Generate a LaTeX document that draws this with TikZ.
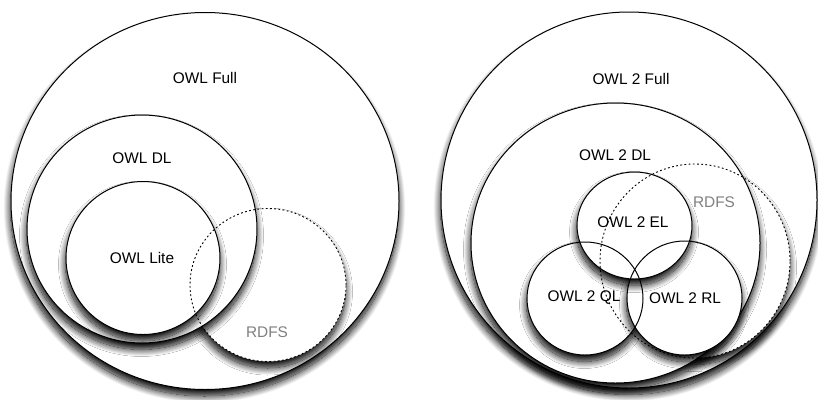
\documentclass[tikz,border=0pt]{standalone}
\usepackage{fontspec}
\setmainfont{Liberation Sans}
\usetikzlibrary{shapes.geometric,shadows.blur}

\begin{document}
\begin{tikzpicture}[x=1pt,y=-1pt,
  setshadow/.style={blur shadow={shadow xshift=-0.5pt, shadow yshift=-6.5pt,
      shadow blur radius=7pt, shadow opacity=100, shadow blur steps=20}},
  region/.style={ellipse, inner sep=0pt, draw=black, line width=1pt,
      fill=white, setshadow},
  regionfill/.style={ellipse, inner sep=0pt, fill=white, setshadow},
  regionline/.style={ellipse, inner sep=0pt, draw=black, line width=1pt},
  rdfsline/.style={ellipse, inner sep=0pt, draw=black, line width=0.9pt,
      dash pattern=on 1.8pt off 2.4pt},
  lbl/.style={font=\fontsize{15.4}{18}\selectfont, text=black},
  rdfslbl/.style={lbl, text=black!50}
]
\useasboundingbox (0,0) rectangle (818,399);

% ---------- OWL 1 ----------
\node[region, minimum width=388pt, minimum height=377pt] (full) at (205,201) {};
\node[regionfill, minimum width=156pt, minimum height=153pt] (rdfsfill) at (268,285) {};
\node[region, minimum width=230pt, minimum height=228pt] (dl) at (142,229) {};
\node[region, minimum width=154pt, minimum height=153pt] (lite) at (143,258) {};
\node[rdfsline, minimum width=156pt, minimum height=153pt] (rdfs) at (rdfsfill) {};

\node[lbl] (fulllbl) at (205,78) {OWL Full};
\node[lbl] (dllbl) at (142,158) {OWL DL};
\node[lbl] (litelbl) at (142,258) {OWL Lite};
\node[rdfslbl] (rdfslbl) at (267,332) {RDFS};

% ---------- OWL 2 ----------
\node[region, minimum width=376pt, minimum height=376pt] (full2) at (629,200) {};
\node[regionfill, minimum width=190pt, minimum height=194pt] (rdfs2fill) at (695,261) {};
\node[region, minimum width=289pt, minimum height=280pt] (dl2) at (615.5,243) {};

% profiles: fills with shadows first, outlines afterwards
\node[regionfill, minimum width=116pt, minimum height=113pt] (qlfill) at (585,298.5) {};
\node[regionfill, minimum width=115pt, minimum height=114pt] (rlfill) at (684.5,298) {};
\node[regionfill, minimum width=115pt, minimum height=107pt] (elfill) at (634.5,225.5) {};
\node[regionline, minimum width=116pt, minimum height=113pt] (ql) at (qlfill) {};
\node[regionline, minimum width=115pt, minimum height=114pt] (rl) at (rlfill) {};
\node[regionline, minimum width=115pt, minimum height=107pt] (el) at (elfill) {};

\node[rdfsline, minimum width=190pt, minimum height=194pt] (rdfs2) at (rdfs2fill) {};

\node[lbl] (full2lbl) at (631,79) {OWL 2 Full};
\node[lbl] (dl2lbl) at (615,155) {OWL 2 DL};
\node[lbl] (ellbl) at (633,222) {OWL 2 EL};
\node[lbl] (qllbl) at (584,298) {OWL 2 QL};
\node[lbl] (rllbl) at (685,298) {OWL 2 RL};
\node[rdfslbl] (rdfs2lbl) at (714,202) {RDFS};
\end{tikzpicture}
\end{document}
